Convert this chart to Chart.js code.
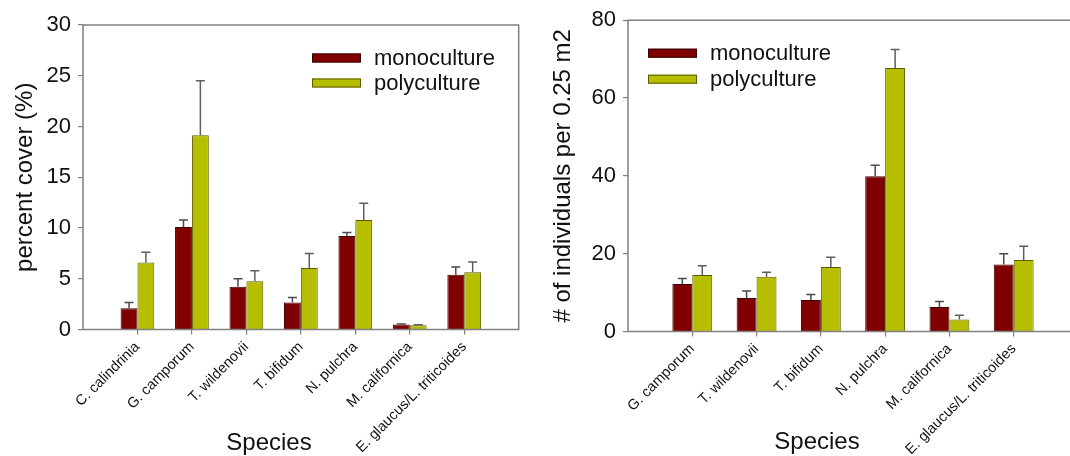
<!DOCTYPE html>
<html>
<head>
<meta charset="utf-8">
<script src="https://cdn.jsdelivr.net/npm/chart.js@4.4.1/dist/chart.umd.min.js"></script>
<style>
    html, body { margin: 0; padding: 0; background: #fff; overflow: hidden; width: 1070px; height: 456px; }
    .panel { position: absolute; top: 0; height: 456px; }
    #coverWrap { left: 0; width: 535px; }
    #densityWrap { left: 535px; width: 560px; }
</style>
</head>
<body>
<div id="coverWrap" class="panel"><canvas id="coverChart" width="535" height="456"></canvas></div>
<div id="densityWrap" class="panel"><canvas id="densityChart" width="560" height="456"></canvas></div>
<script>
// percent cover panel
const coverSpecies = ["C. calindrinia", "G. camporum", "T. wildenovii", "T. bifidum", "N. pulchra", "M. californica", "E. glaucus/L. triticoides"];
const coverMono = [2.1, 10.1, 4.2, 2.65, 9.2, 0.5, 5.4];
const coverMonoErr = [0.55, 0.7, 0.8, 0.5, 0.35, 0.05, 0.75];
const coverPoly = [6.6, 19.15, 4.75, 6.05, 10.8, 0.43, 5.65];
const coverPolyErr = [1.0, 5.35, 1.05, 1.45, 1.65, 0.03, 1.0];
const coverTicks = [0, 5, 10, 15, 20, 25, 30];

// density panel
const densitySpecies = ["G. camporum", "T. wildenovii", "T. bifidum", "N. pulchra", "M. californica", "E. glaucus/L. triticoides"];
const densityMono = [12.2, 8.6, 8.1, 39.9, 6.3, 17.2];
const densityMonoErr = [1.45, 1.8, 1.4, 2.8, 1.4, 2.8];
const densityPoly = [14.5, 14.1, 16.6, 67.7, 3.07, 18.4];
const densityPolyErr = [2.4, 1.1, 2.5, 4.8, 1.1, 3.5];
const densityTicks = [0, 20, 40, 60, 80];

const seriesNames = ["monoculture", "polyculture"];

const FONT = "'Liberation Sans', Arial, sans-serif";
const MONO_COLOR = "#800000";
const POLY_COLOR = "#b6be00";
const AXIS_COLOR = "#808080";

// empty slot at both ends so the bars sit one step in from the frame
function pad(arr) {
    return [null, ...arr, null];
}

const errorBars = {
    id: "errorBars",
    afterDatasetsDraw(chart) {
        const ctx = chart.ctx;
        const yScale = chart.scales.y;
        chart.data.datasets.forEach((ds, di) => {
            if (!ds.errors) return;
            const meta = chart.getDatasetMeta(di);
            meta.data.forEach((bar, i) => {
                const v = ds.data[i];
                const e = ds.errors[i];
                if (v == null || e == null) return;
                const top = yScale.getPixelForValue(v + e);
                ctx.save();
                ctx.strokeStyle = ds.errorColor;
                ctx.lineWidth = 1.5;
                ctx.beginPath();
                ctx.moveTo(bar.x, bar.y);
                ctx.lineTo(bar.x, top);
                ctx.moveTo(bar.x - 4.5, top);
                ctx.lineTo(bar.x + 4.5, top);
                ctx.stroke();
                ctx.restore();
            });
        });
    }
};

const panelDecor = {
    id: "panelDecor",
    afterDraw(chart, args, opts) {
        const ctx = chart.ctx;
        const a = chart.chartArea;
        ctx.save();
        ctx.strokeStyle = AXIS_COLOR;
        ctx.lineWidth = 1.5;
        ctx.strokeRect(a.left, a.top, a.right - a.left, a.bottom - a.top);

        // legend
        ctx.font = "22px " + FONT;
        ctx.textBaseline = "middle";
        ctx.textAlign = "left";
        chart.data.datasets.forEach((ds, i) => {
            const bx = a.left + opts.legendX;
            const by = a.top + opts.legendY + i * opts.legendGap;
            ctx.fillStyle = ds.backgroundColor;
            ctx.fillRect(bx, by, 49, 9);
            ctx.strokeStyle = ds.borderColor;
            ctx.lineWidth = 1;
            ctx.strokeRect(bx + 0.5, by + 0.5, 48, 8);
            ctx.fillStyle = "#111";
            ctx.fillText(ds.label, bx + 62, by + 5);
        });

        // axis titles
        ctx.fillStyle = "#111";
        ctx.font = "24px " + FONT;
        ctx.textAlign = "center";
        ctx.fillText(opts.xTitle, opts.xTitleX, opts.xTitleY);
        ctx.translate(opts.yTitleX, (a.top + a.bottom) / 2);
        ctx.rotate(-Math.PI / 2);
        ctx.fillText(opts.yTitle, 0, 0);
        ctx.restore();
    }
};

function buildConfig(p) {
    return {
        type: "bar",
        data: {
            labels: ["", ...p.species, ""],
            datasets: [{
                label: seriesNames[0],
                data: pad(p.mono),
                errors: pad(p.monoErr),
                errorColor: "#4a4a4a",
                backgroundColor: MONO_COLOR,
                borderColor: "#3a0000",
                borderWidth: 1,
                categoryPercentage: 0.62,
                barPercentage: 1.0
            }, {
                label: seriesNames[1],
                data: pad(p.poly),
                errors: pad(p.polyErr),
                errorColor: "#5e5e5e",
                backgroundColor: POLY_COLOR,
                borderColor: "#5c5a00",
                borderWidth: 1,
                categoryPercentage: 0.62,
                barPercentage: 1.0
            }]
        },
        options: {
            responsive: false,
            animation: false,
            layout: { padding: p.padding },
            plugins: {
                legend: { display: false },
                tooltip: { enabled: false },
                panelDecor: p.decor
            },
            scales: {
                x: {
                    type: "category",
                    offset: false,
                    grid: {
                        offset: false,
                        drawOnChartArea: false,
                        drawTicks: true,
                        tickLength: 5,
                        lineWidth: 1.2,
                        color: c => (c.tick && c.tick.label) ? AXIS_COLOR : "rgba(0,0,0,0)"
                    },
                    border: { display: false },
                    ticks: {
                        autoSkip: false,
                        maxRotation: 45,
                        minRotation: 45,
                        padding: 4,
                        color: "#111",
                        font: { family: FONT, size: 14.5 }
                    },
                    afterFit: s => { s.height = p.xAxisHeight; }
                },
                y: {
                    min: 0,
                    max: p.ticks[p.ticks.length - 1],
                    afterBuildTicks: s => { s.ticks = p.ticks.map(v => ({ value: v })); },
                    grid: {
                        drawOnChartArea: false,
                        drawTicks: true,
                        tickLength: 5,
                        lineWidth: 1.2,
                        color: AXIS_COLOR
                    },
                    border: { display: false },
                    ticks: {
                        padding: 7,
                        color: "#111",
                        font: { family: FONT, size: 22 }
                    },
                    afterFit: s => { s.width = p.yAxisWidth; }
                }
            }
        }
    };
}

Chart.register(errorBars, panelDecor);

new Chart(document.getElementById("coverChart"), buildConfig({
    species: coverSpecies,
    mono: coverMono, monoErr: coverMonoErr,
    poly: coverPoly, polyErr: coverPolyErr,
    ticks: coverTicks,
    padding: { top: 25, right: 16, left: 0, bottom: 0 },
    yAxisWidth: 83,
    xAxisHeight: 126.5,
    decor: {
        legendX: 229, legendY: 28.5, legendGap: 25,
        xTitle: "Species", xTitleX: 269, xTitleY: 443,
        yTitle: "percent cover (%)", yTitleX: 25
    }
}));

new Chart(document.getElementById("densityChart"), buildConfig({
    species: densitySpecies,
    mono: densityMono, monoErr: densityMonoErr,
    poly: densityPoly, polyErr: densityPolyErr,
    ticks: densityTicks,
    padding: { top: 19.5, right: 17, left: 0, bottom: 0 },
    yAxisWidth: 93,
    xAxisHeight: 124.5,
    decor: {
        legendX: 20, legendY: 28.5, legendGap: 26,
        xTitle: "Species", xTitleX: 282, xTitleY: 442,
        yTitle: "# of individuals per 0.25 m2", yTitleX: 28
    }
}));
</script>
</body>
</html>
